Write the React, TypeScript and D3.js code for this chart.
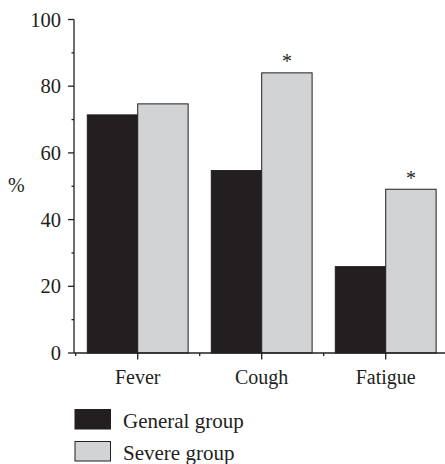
import React from "react";
import * as d3 from "d3";

const categories = ["Fever", "Cough", "Fatigue"];
const seriesNames = ["General group", "Severe group"];
const generalValues = [71.4, 54.7, 25.9];
const severeValues = [74.7, 84.0, 49.1];
const significant = [false, true, true];
const yTicks = [0, 20, 40, 60, 80, 100];
const yMinorTicks = [10, 30, 50, 70, 90];

const W = 445;
const H = 464;
const INK = "#231f20";
const GREY = "#d1d3d4";
const FONT = "'Liberation Serif', 'Times New Roman', serif";

export default function App() {
  const y = d3.scaleLinear().domain([0, 100]).range([353, 19.5]);
  const x = d3.scaleBand<string>().domain(categories).range([75.7, 447.7]).padding(0);
  const sub = d3
    .scaleBand<string>()
    .domain(seriesNames)
    .range([0, x.bandwidth()])
    .paddingInner(0)
    .paddingOuter(0.23);
  const colors = [INK, GREY];
  const values = [generalValues, severeValues];
  const axisX = 74;
  const boundaries = categories.map((c) => x(c) as number);

  return (
    <svg
      width={W}
      height={H}
      style={{ position: "absolute", left: 0, top: 0, background: "#fff" }}
      fontFamily={FONT}
    >
      {/* bars */}
      {categories.map((c, i) => (
        <g key={c} transform={`translate(${x(c)},0)`}>
          {seriesNames.map((s, j) => {
            const v = values[j][i];
            return (
              <rect
                key={s}
                x={sub(s)}
                y={y(v)}
                width={sub.bandwidth()}
                height={y(0) - y(v)}
                fill={colors[j]}
                stroke={INK}
                strokeWidth={1}
              />
            );
          })}
          {significant[i] && (
            <text
              x={(sub(seriesNames[1]) as number) + sub.bandwidth() / 2}
              y={y(severeValues[i]) - 4.5}
              textAnchor="middle"
              fontSize={20}
              fill={INK}
            >
              *
            </text>
          )}
        </g>
      ))}

      {/* y axis */}
      <line x1={axisX} x2={axisX} y1={y(100)} y2={y(0)} stroke={INK} strokeWidth={1.3} />
      {yTicks.map((t) => (
        <g key={t}>
          <line x1={axisX - 6} x2={axisX} y1={y(t)} y2={y(t)} stroke={INK} strokeWidth={1.3} />
          <text
            x={61}
            y={y(t)}
            dy="0.35em"
            textAnchor="end"
            fontSize={20.5}
            fill={INK}
          >
            {t}
          </text>
        </g>
      ))}
      {yMinorTicks.map((t) => (
        <line key={t} x1={axisX - 2.5} x2={axisX} y1={y(t)} y2={y(t)} stroke={INK} strokeWidth={1.3} />
      ))}
      <text x={8} y={192} fontSize={20} fill={INK}>
        %
      </text>

      {/* x axis */}
      <line x1={axisX} x2={W} y1={y(0)} y2={y(0)} stroke={INK} strokeWidth={1.3} />
      {categories.map((c) => {
        const cx = (x(c) as number) + x.bandwidth() / 2;
        return (
          <g key={c}>
            <line x1={cx} x2={cx} y1={y(0)} y2={y(0) + 6.5} stroke={INK} strokeWidth={1.3} />
            <text x={cx} y={384} textAnchor="middle" fontSize={20} fill={INK}>
              {c}
            </text>
          </g>
        );
      })}
      {boundaries.map((b, i) => (
        <line key={i} x1={b} x2={b} y1={y(0)} y2={y(0) + 3} stroke={INK} strokeWidth={1.3} />
      ))}

      {/* legend */}
      {seriesNames.map((s, j) => (
        <g key={s} transform={`translate(75,${409.5 + j * 32})`}>
          <rect x={0} y={0} width={35.5} height={19.5} fill={colors[j]} stroke={INK} strokeWidth={1} />
          <text x={48} y={18.5} fontSize={21} fill={INK}>
            {s}
          </text>
        </g>
      ))}
    </svg>
  );
}
